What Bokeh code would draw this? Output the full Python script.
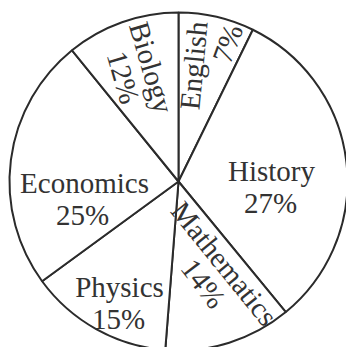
from math import pi, radians
from bokeh.plotting import figure
from bokeh.models import Range1d, ColumnDataSource
from bokeh.core.properties import value
from bokeh.embed import file_html
from bokeh.resources import INLINE

# Data
subjects = ["English", "History", "Mathematics", "Physics", "Economics", "Biology"]
percent_labels = [7, 27, 14, 15, 25, 12]
# share of the circle each slice occupies as drawn (percent)
drawn_share = [7.25, 31.8, 12.2, 13.7, 24.2, 10.85]

# Layout (x = page x, y = 347 - page y)
W, H = 346, 347
cx, cy, R = 178, H - 181, 169
# label placements: (x, y_page, angle_deg, baseline) for name line and percent line
name_pos = {
    "English": (193, 65, 84.5, "middle"),
    "History": (271, 170, 0, "alphabetic"),
    "Mathematics": (224, 263, -51, "middle"),
    "Physics": (119, 286, 0, "alphabetic"),
    "Economics": (84, 182, 0, "alphabetic"),
    "Biology": (151, 67, -73.5, "middle"),
}
pct_pos = {
    "English": (227, 43, 70, "middle"),
    "History": (270, 202, 0, "alphabetic"),
    "Mathematics": (203, 283, -52.5, "middle"),
    "Physics": (118, 318, 0, "alphabetic"),
    "Economics": (82, 214, 0, "alphabetic"),
    "Biology": (123, 77, -74, "middle"),
}

p = figure(width=W, height=H, output_backend="svg", toolbar_location=None,
           x_range=Range1d(0, W), y_range=Range1d(0, H),
           min_border=0)
p.axis.visible = False
p.grid.visible = False
p.outline_line_color = None
p.background_fill_color = "white"
p.border_fill_color = "white"

total = sum(drawn_share)
starts, ends = [], []
cum = 0.0
for s in drawn_share:
    starts.append(pi / 2 - 2 * pi * cum / total)
    cum += s
    ends.append(pi / 2 - 2 * pi * cum / total)

src = ColumnDataSource(dict(x=[cx] * len(subjects), y=[cy] * len(subjects),
                            start=starts, end=ends, name=subjects))
p.wedge(x="x", y="y", radius=R, start_angle="start", end_angle="end",
        direction="clock", source=src, fill_color="white",
        line_color="#2b2b2b", line_width=2)

col = "#333333"
font = value("Liberation Serif")
for subj, pct in zip(subjects, percent_labels):
    for txt, pos in ((subj, name_pos[subj]), (f"{pct}%", pct_pos[subj])):
        x, yp, ang, base = pos
        p.text(x=[x], y=[H - yp], text=[txt], angle=radians(ang),
               text_align="center", text_baseline=base,
               text_font=font, text_font_size="29px", text_color=col)

open("out.html", "w").write(file_html(p, INLINE))
